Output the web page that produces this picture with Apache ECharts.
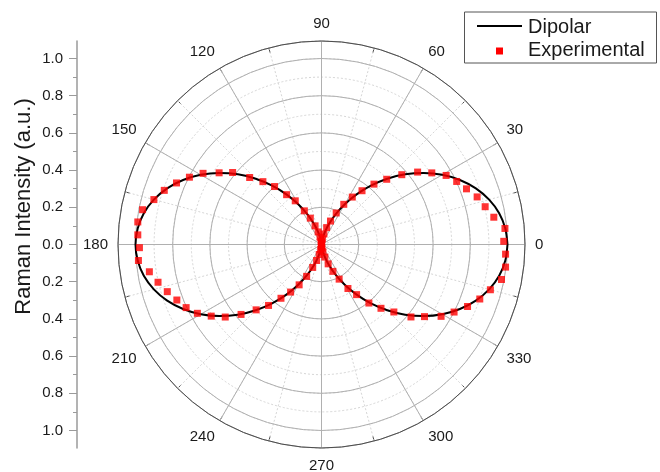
<!DOCTYPE html>
<html><head><meta charset="utf-8">
<script src="https://cdn.jsdelivr.net/npm/echarts@6/dist/echarts.min.js"></script>
<style>html,body{margin:0;padding:0;background:#fff}#c{width:660px;height:472px}</style>
</head><body><div id="c"></div>
<script>
// Dipolar model curve (angle in degrees, intensity)
const dipolarAngles = [0,5,10,15,20,25,30,35,40,45,50,55,60,65,70,75,80,85,90,
  95,100,105,110,115,120,125,130,135,140,145,150,155,160,165,170,175,180,
  185,190,195,200,205,210,215,220,225,230,235,240,245,250,255,260,265,270,
  275,280,285,290,295,300,305,310,315,320,325,330,335,340,345,350,355,360];
const dipolarValues = [1.000,0.992,0.970,0.933,0.883,0.821,0.750,0.671,0.587,0.500,0.413,0.329,0.250,0.179,0.117,0.067,0.030,0.008,0.000,
  0.008,0.030,0.067,0.117,0.179,0.250,0.329,0.413,0.500,0.587,0.671,0.750,0.821,0.883,0.933,0.970,0.992,1.000,
  0.992,0.970,0.933,0.883,0.821,0.750,0.671,0.587,0.500,0.413,0.329,0.250,0.179,0.117,0.067,0.030,0.008,0.000,
  0.008,0.030,0.067,0.117,0.179,0.250,0.329,0.413,0.500,0.587,0.671,0.750,0.821,0.883,0.933,0.970,0.992,1.000];
// Experimental points
const expAngles = [1,5,9,13,17,21,25,29,33,37,41,45,49,53,57,61,65,69,73,77,81,85,89,
  93,97,101,105,109,113,117,121,125,129,133,137,141,145,149,153,157,161,165,169,173,177,
  181,185,189,193,197,201,205,209,213,217,221,225,229,233,237,241,245,249,253,257,261,265,269,
  273,277,281,285,289,293,297,301,305,309,313,317,321,325,329,333,337,341,345,349,353,357];
const expValues = [0.980,0.990,0.938,0.903,0.875,0.835,0.802,0.766,0.707,0.647,0.572,0.496,0.430,0.362,0.304,0.247,0.187,0.135,0.095,0.058,0.030,0.012,0.004,
  0.008,0.018,0.040,0.070,0.106,0.154,0.203,0.274,0.327,0.401,0.462,0.528,0.615,0.672,0.743,0.797,0.847,0.894,0.933,0.980,0.995,0.989,
  0.979,0.988,0.937,0.902,0.867,0.833,0.803,0.763,0.707,0.648,0.573,0.497,0.434,0.362,0.305,0.248,0.189,0.132,0.090,0.055,0.028,0.012,0.004,
  0.008,0.020,0.040,0.070,0.110,0.157,0.209,0.276,0.329,0.405,0.469,0.532,0.619,0.676,0.750,0.800,0.853,0.900,0.940,0.986,0.997,0.991];
const angleTicks = [0,30,60,90,120,150,180,210,240,270,300,330];
const legendNames = ['Dipolar','Experimental'];
const axisTitle = 'Raman Intensity (a.u.)';

const FONT = '"Liberation Sans", Arial, Helvetica, sans-serif';
const C = [321.5, 244.5], R = 203.5, UNIT = 186, RMAX = R / UNIT;

const chart = echarts.init(document.getElementById('c'), null, {renderer:'canvas'});
const option = {
  animation:false,
  backgroundColor:'#fff',
  polar:[{center:C, radius:R},{center:C, radius:R}],
  angleAxis:[
    {polarIndex:0, type:'value', min:0, max:360, interval:30, startAngle:0, clockwise:false, z:3,
     axisLine:{show:true, lineStyle:{color:'#4d4d4d', width:1}},
     axisTick:{show:false},
     axisLabel:{show:true, margin:10, fontSize:15, color:'#1a1a1a', fontFamily:FONT,
       formatter: v => angleTicks.indexOf(v) >= 0 ? String(v) : ''},
     splitLine:{show:true, lineStyle:{color:'#b0b0b0', width:1}}},
    {polarIndex:1, type:'value', min:0, max:360, interval:15, startAngle:0, clockwise:false, z:1,
     axisLine:{show:false},
     axisTick:{show:true, inside:true, length:5, lineStyle:{color:'#4d4d4d'}},
     axisLabel:{show:false},
     splitLine:{show:true, lineStyle:{color:'#d6d6d6', width:1, type:[2,2]}}}
  ],
  radiusAxis:[
    {polarIndex:0, type:'value', min:0, max:RMAX, interval:0.2, z:2,
     axisLine:{show:false}, axisTick:{show:false}, axisLabel:{show:false},
     splitLine:{show:true, lineStyle:{color:'#b0b0b0', width:1}}},
    {polarIndex:1, type:'value', min:0, max:RMAX, interval:0.1, z:1,
     axisLine:{show:false}, axisTick:{show:false}, axisLabel:{show:false},
     splitLine:{show:true, lineStyle:{color:'#d6d6d6', width:1, type:[2,2]}}}
  ],
  grid:[
    {left:77, top:C[1]-R, width:1, height:2*R},
    {left:77, top:C[1]-UNIT, width:1, height:2*UNIT}
  ],
  xAxis:[{gridIndex:0, show:false},{gridIndex:1, show:false}],
  yAxis:[
    {gridIndex:0, type:'value', min:-1, max:1,
     axisLine:{show:true, lineStyle:{color:'#9a9a9a', width:1.5}},
     axisTick:{show:false}, axisLabel:{show:false}, splitLine:{show:false},
     name:axisTitle, nameLocation:'middle', nameGap:42,
     nameTextStyle:{fontSize:22, color:'#1a1a1a', fontFamily:FONT, padding:[0,0,0,76]}},
    {gridIndex:1, type:'value', min:-1, max:1, interval:0.2,
     axisLine:{show:false},
     axisTick:{show:true, length:8, lineStyle:{color:'#9a9a9a', width:1}},
     minorTick:{show:true, splitNumber:2, length:4, lineStyle:{color:'#9a9a9a', width:1}},
     axisLabel:{margin:14, fontSize:15, color:'#1a1a1a', fontFamily:FONT,
       formatter: v => Math.abs(v).toFixed(1)},
     splitLine:{show:false}}
  ],
  series:[
    {name:legendNames[0], type:'line', coordinateSystem:'polar', polarIndex:0,
     data: dipolarAngles.map((a,i)=>[dipolarValues[i], a]),
     showSymbol:false, symbol:'none', smooth:0.3,
     lineStyle:{color:'#000', width:2}, z:3},
    {name:legendNames[1], type:'scatter', coordinateSystem:'polar', polarIndex:0,
     data: expAngles.map((a,i)=>[expValues[i], a]),
     symbol:'rect', symbolSize:7, itemStyle:{color:'#ff0000'}, z:4}
  ],
  graphic:[
    {type:'rect', left:464, top:11.5, z:10, shape:{width:192, height:51},
     style:{fill:'#fff', stroke:'#555', lineWidth:1}},
    {type:'line', z:11, shape:{x1:477, y1:26, x2:522, y2:26}, style:{stroke:'#000', lineWidth:2}},
    {type:'rect', z:11, shape:{x:496, y:47.5, width:7, height:7}, style:{fill:'#ff0000'}},
    {type:'text', z:11, x:528, y:27, style:{text:legendNames[0], font:'20px '+FONT, fill:'#1a1a1a', verticalAlign:'middle'}},
    {type:'text', z:11, x:528, y:50, style:{text:legendNames[1], font:'20px '+FONT, fill:'#1a1a1a', verticalAlign:'middle'}}
  ]
};
chart.setOption(option);
</script></body></html>
